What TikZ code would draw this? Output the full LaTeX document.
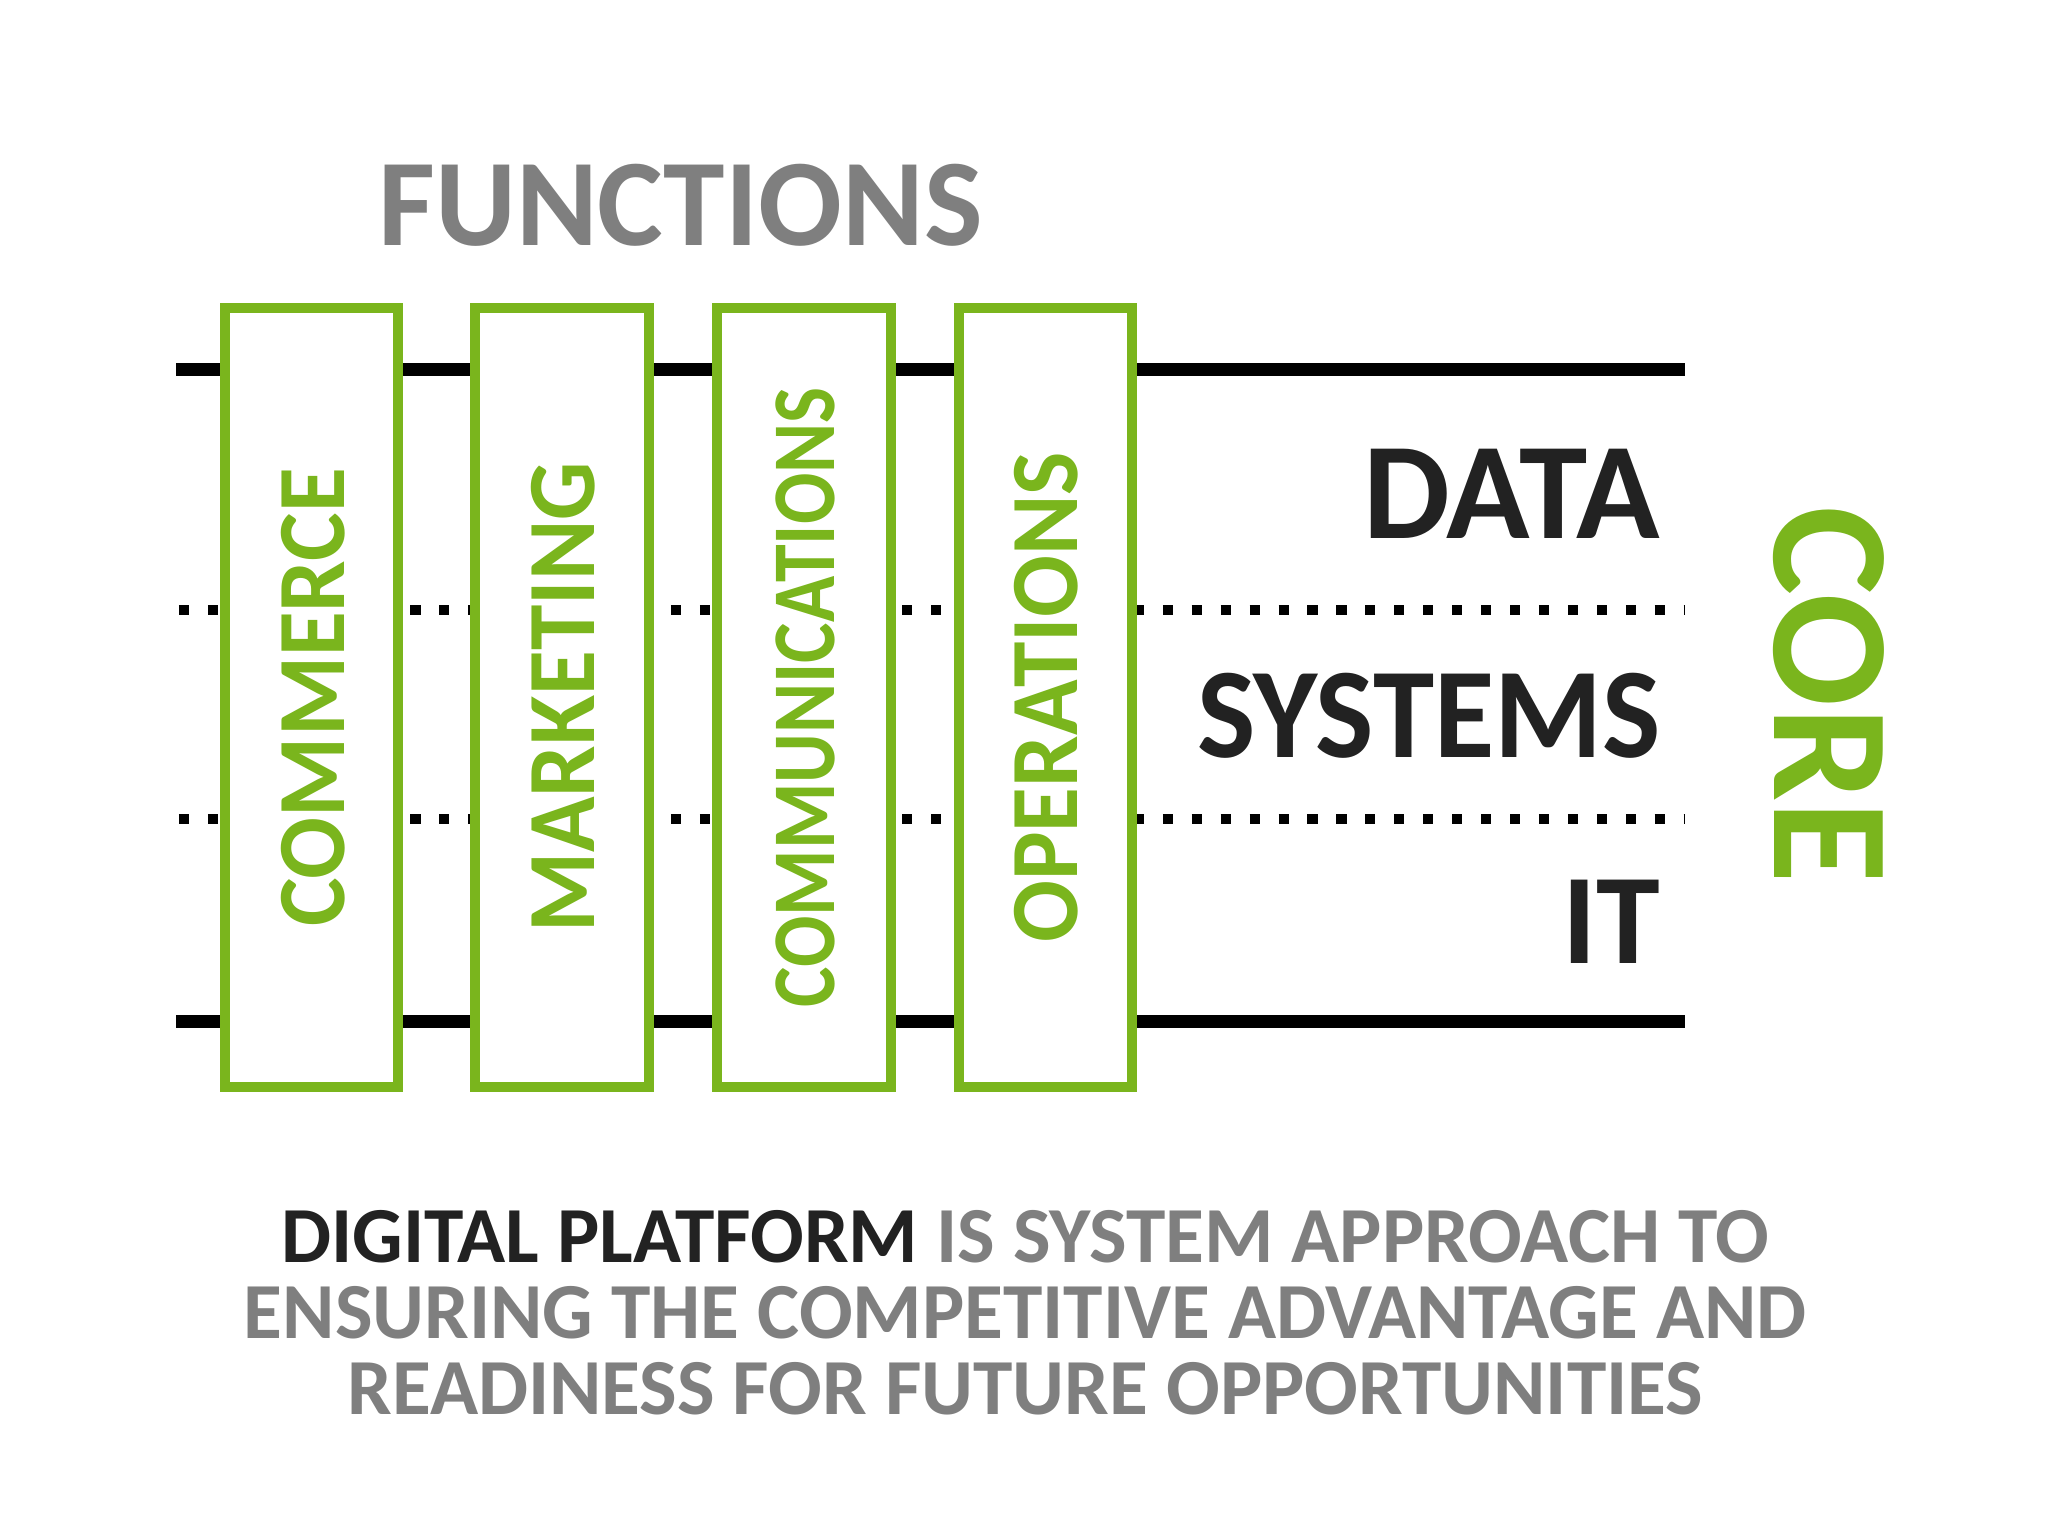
\documentclass[tikz,border=0pt]{standalone}
\usepackage{fontspec}
\setmainfont{Carlito}
\definecolor{grn}{HTML}{7AB51D}
\definecolor{gry}{HTML}{7F7F7F}
\definecolor{dk}{HTML}{222222}
\begin{document}
\begin{tikzpicture}[x=0.01cm,y=-0.01cm,
 fbox/.style={draw=grn,line width=2.2pt,fill=white},
 flab/.style={text=grn,font=\bfseries\fontsize{21}{21}\selectfont,rotate=90,inner sep=0},
 clab/.style={text=dk,font=\bfseries\fontsize{28}{28}\selectfont,anchor=east,inner sep=0},
 thick line/.style={line width=2.8pt,black},
 dotline/.style={line width=2.2pt,dash pattern=on 2.2pt off 4.1pt}]
\useasboundingbox (0,0) rectangle (1568,1176);
\node[text=gry,font=\bfseries\fontsize{27}{27}\selectfont,inner sep=0] (fn) at (521,157) {FUNCTIONS};
\coordinate (t1) at (135,283); \coordinate (t2) at (1290,283);
\coordinate (b1) at (135,782); \coordinate (b2) at (1290,782);
\coordinate (d1) at (137,467); \coordinate (d2) at (1290,467);
\coordinate (e1) at (137,627); \coordinate (e2) at (1290,627);
\draw[thick line] (t1) -- (t2);
\draw[thick line] (b1) -- (b2);
\draw[dotline] (d1) -- (d2);
\draw[dotline] (e1) -- (e2);
\draw[fbox] (172,236) rectangle (305,832);
\draw[fbox] (364,236) rectangle (497,832);
\draw[fbox] (549,236) rectangle (682,832);
\draw[fbox] (734,236) rectangle (867,832);
\node[flab] (c1) at (240,534) {\scalebox{0.95}[1]{COMMERCE}};
\node[flab] (c2) at (431,534) {\scalebox{0.95}[1]{MARKETING}};
\node[flab,font=\bfseries\fontsize{19.5}{19.5}\selectfont] (c3) at (617,534) {\scalebox{0.85}[1]{COMMUNICATIONS}};
\node[flab] (c4) at (801,534) {\scalebox{0.95}[1]{OPERATIONS}};
\node[clab,font=\bfseries\fontsize{30}{30}\selectfont] (data) at (1272,378) {DATA};
\node[clab] (sys) at (1272,548) {\scalebox{0.96}[1]{SYSTEMS}};
\node[clab] (it) at (1272,706) {IT};
\node[text=grn,font=\bfseries\fontsize{36.5}{36.5}\selectfont,rotate=-90,inner sep=0] (core) at (1400,532) {CORE};
\node[text=gry,font=\bfseries\fontsize{17.3}{16.6}\selectfont,align=center,inner sep=0] (bt) at (785,1005)
 {\textcolor{dk}{DIGITAL PLATFORM} IS SYSTEM APPROACH TO\\ ENSURING THE COMPETITIVE ADVANTAGE AND\\ READINESS FOR FUTURE OPPORTUNITIES};
\end{tikzpicture}
\end{document}
